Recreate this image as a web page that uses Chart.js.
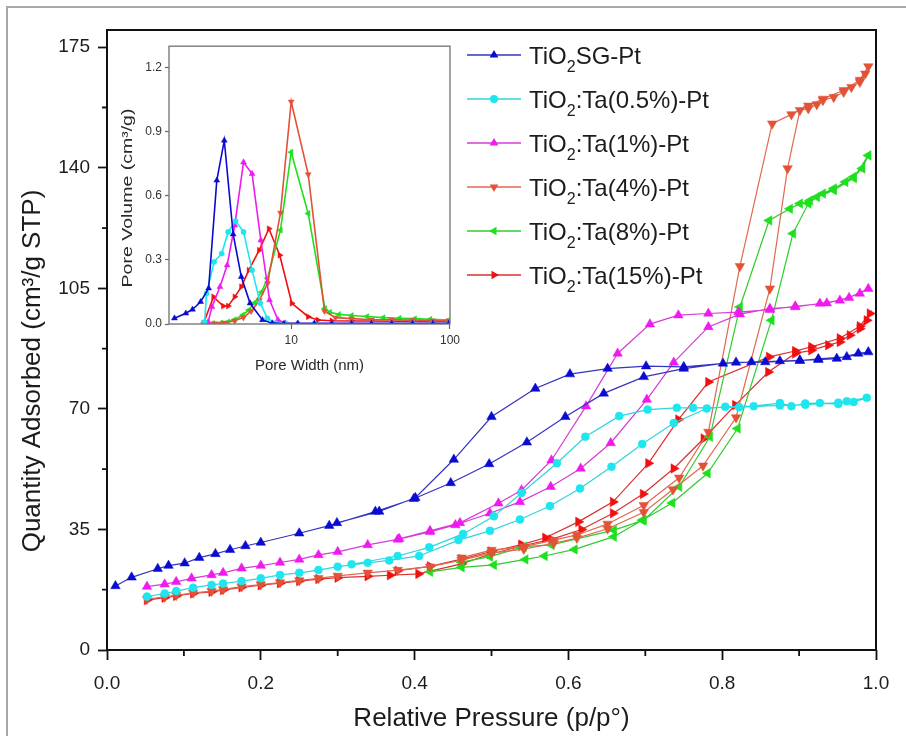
<!DOCTYPE html>
<html><head><meta charset="utf-8">
<script src="https://cdn.jsdelivr.net/npm/chart.js@4.4.0/dist/chart.umd.min.js"></script>
<style>
html,body{margin:0;padding:0;background:#fff;}
#wrap{position:relative;width:906px;height:736px;overflow:hidden;}
#main{position:absolute;left:0;top:0;}
#inset{position:absolute;left:112px;top:36px;}
</style></head><body>
<div id="wrap"><canvas id="main" width="906" height="736"></canvas><canvas id="inset" width="352" height="346"></canvas></div>
<script>
// ---------- Main isotherm data (relative pressure p/p0, quantity adsorbed cm3/g STP) ----------
const sgAdsP = [0.011,0.032,0.066,0.080,0.101,0.120,0.141,0.160,0.180,0.200,0.250,0.289,0.349,0.399,0.447,0.497,0.546,0.596,0.646,0.698,0.750,0.801,0.838,0.875,0.901,0.925,0.949,0.977,0.990];
const sgAdsQ = [18.6,21.1,23.6,24.5,25.2,26.8,27.9,29.1,30.2,31.2,33.9,36.1,40.2,43.9,48.5,54.0,60.3,67.7,74.5,79.3,81.7,83.2,83.6,83.9,84.1,84.3,84.6,86.1,86.5];
const sgDesP = [0.962,0.925,0.901,0.856,0.818,0.750,0.701,0.651,0.602,0.557,0.500,0.451,0.401,0.354,0.299];
const sgDesQ = [85.1,84.5,84.0,83.6,83.5,82.2,82.4,81.7,80.1,75.9,67.7,55.3,44.2,40.2,36.9];

const ta05AdsP = [0.052,0.075,0.090,0.112,0.136,0.151,0.175,0.200,0.225,0.250,0.275,0.300,0.339,0.367,0.406,0.457,0.498,0.537,0.576,0.615,0.656,0.696,0.737,0.780,0.804,0.841,0.875,0.890,0.908,0.927,0.951,0.962,0.971,0.988];
const ta05AdsQ = [15.5,16.4,17.1,18.1,18.9,19.3,20.0,20.8,21.8,22.4,23.2,24.2,25.3,26.0,27.3,31.9,34.6,37.9,41.8,46.9,53.2,59.8,65.9,70.1,70.6,70.8,71.7,70.8,71.6,71.7,71.4,72.2,72.0,73.2];
const ta05DesP = [0.951,0.908,0.875,0.822,0.762,0.741,0.703,0.666,0.622,0.585,0.539,0.503,0.463,0.419,0.378,0.318];
const ta05DesQ = [71.8,71.2,71.0,70.5,70.3,70.3,69.8,67.9,61.9,54.2,45.6,38.8,33.7,29.8,27.3,24.9];

const ta1AdsP = [0.052,0.075,0.090,0.110,0.136,0.151,0.175,0.200,0.225,0.250,0.275,0.300,0.339,0.378,0.420,0.453,0.498,0.537,0.577,0.616,0.655,0.702,0.737,0.782,0.823,0.862,0.895,0.927,0.953,0.979,0.990];
const ta1AdsQ = [18.4,19.1,19.8,20.8,21.8,22.4,23.7,24.5,25.4,26.3,27.6,28.5,30.5,32.1,34.3,36.3,39.7,43.0,47.4,52.7,60.1,72.7,83.5,93.8,97.5,99.1,99.6,100.6,101.5,103.5,104.9];
const ta1DesP = [0.965,0.936,0.895,0.862,0.821,0.782,0.743,0.706,0.664,0.623,0.578,0.539,0.509,0.459,0.420,0.380];
const ta1DesQ = [102.3,100.7,99.8,98.8,98.1,97.7,97.2,94.6,86.1,70.8,55.1,46.4,42.6,36.9,34.6,32.3];

const ta4AdsP = [0.052,0.075,0.090,0.112,0.136,0.151,0.175,0.200,0.225,0.250,0.275,0.300,0.339,0.378,0.420,0.461,0.500,0.542,0.581,0.611,0.651,0.698,0.736,0.775,0.818,0.862,0.885,0.901,0.912,0.923,0.931,0.945,0.958,0.968,0.979,0.986,0.990];
const ta4AdsQ = [14.8,15.4,15.9,16.6,17.1,17.6,18.4,19.0,19.6,20.2,20.8,21.5,22.4,23.2,24.2,26.1,28.1,29.3,31.0,32.5,35.2,40.0,46.6,53.5,67.5,104.9,139.8,156.7,157.2,158.4,159.6,160.5,162.0,163.4,164.9,167.3,169.4];
const ta4DesP = [0.979,0.958,0.931,0.912,0.890,0.865,0.823,0.782,0.744,0.698,0.651,0.611,0.581,0.542,0.500,0.461];
const ta4DesQ = [165.5,162.5,160.0,158.0,155.5,152.8,111.4,63.3,50.0,42.0,36.6,33.4,31.9,30.0,29.0,26.8];

const ta8AdsP = [0.420,0.461,0.503,0.544,0.569,0.608,0.659,0.696,0.735,0.781,0.820,0.864,0.892,0.912,0.923,0.931,0.945,0.960,0.971,0.982,0.990];
const ta8AdsQ = [22.7,24.0,24.7,26.3,27.3,29.2,32.9,37.7,42.7,51.3,64.3,95.7,120.9,129.6,131.5,132.5,134.0,135.9,137.4,139.8,143.6];
const ta8DesP = [0.971,0.945,0.914,0.901,0.888,0.861,0.823,0.784,0.744,0.698,0.659,0.578,0.542,0.498,0.461];
const ta8DesQ = [137.0,133.5,130.5,129.6,128.1,124.7,99.6,61.9,47.4,37.7,34.8,30.5,30.0,27.1,25.5];

const ta15AdsP = [0.052,0.075,0.090,0.112,0.136,0.151,0.175,0.200,0.225,0.250,0.275,0.300,0.339,0.368,0.405,0.461,0.498,0.539,0.578,0.617,0.658,0.697,0.737,0.776,0.817,0.860,0.895,0.916,0.938,0.953,0.966,0.979,0.988,0.992];
const ta15AdsQ = [14.5,15.2,15.7,16.4,16.9,17.4,18.2,18.8,19.4,20.0,20.6,21.0,21.4,21.7,22.1,25.0,27.8,30.2,32.1,35.0,39.7,45.3,52.7,61.4,71.1,80.7,86.1,87.0,88.5,89.4,91.4,93.3,95.7,97.7];
const ta15DesP = [0.979,0.953,0.916,0.895,0.861,0.782,0.743,0.704,0.658,0.613,0.570,0.539,0.500,0.461,0.420,0.378];
const ta15DesQ = [94.0,90.5,88.0,86.8,85.1,77.8,66.9,54.2,43.0,37.2,32.6,30.6,28.6,26.4,24.3,23.0];

// ---------- Inset data (pore width nm, pore volume cm3/g) ----------
const sgW   = [1.84,2.17,2.39,2.69,3.02,3.40,3.79,4.31,4.85,5.51,6.59,7.6,9.0,11,14,18,24,32,43,58,78,98];
const sgV   = [0.027,0.050,0.068,0.104,0.167,0.672,0.859,0.420,0.221,0.097,0.019,0.004,0.002,0.002,0.002,0.002,0.002,0.002,0.002,0.002,0.002,0.002];
const ta05W = [2.85,2.93,3.27,3.65,4.01,4.47,5.01,5.67,6.39,7.08,7.96,9.3,11,14,18,24,32,43,58,78,98];
const ta05V = [0.010,0.143,0.291,0.330,0.431,0.482,0.431,0.252,0.097,0.027,0.004,0.002,0.002,0.002,0.002,0.002,0.002,0.002,0.002,0.002,0.002];
const ta1W  = [3.0,3.17,3.56,3.95,4.41,5.01,5.67,6.44,7.31,8.26,9.2,11,14,18,24,32,43,58,78,98];
const ta1V  = [0.010,0.080,0.174,0.275,0.462,0.757,0.703,0.392,0.112,0.019,0.004,0.003,0.003,0.003,0.003,0.003,0.003,0.003,0.003,0.003];
const ta4W  = [2.81,3.3,3.8,4.4,5.0,5.6,6.3,7.1,8.56,10.0,12.8,16.2,19,24,32,43,58,78,98];
const ta4V  = [0.000,0.003,0.006,0.015,0.030,0.060,0.110,0.190,0.520,1.040,0.700,0.060,0.030,0.025,0.020,0.020,0.018,0.016,0.015];
const ta8W  = [3.2,3.6,4.0,4.4,4.96,5.4,5.9,6.5,7.08,8.56,10.0,12.8,16.3,17.5,20,24,30,38,48,60,75,98];
const ta8V  = [0.003,0.005,0.010,0.020,0.042,0.065,0.100,0.150,0.213,0.439,0.804,0.517,0.073,0.055,0.045,0.040,0.035,0.030,0.027,0.025,0.022,0.018];
const ta15W = [2.81,3.24,3.73,4.01,4.41,4.85,5.41,6.28,7.24,8.47,10.09,12.8,14.7,18,24,32,43,58,78,98];
const ta15V = [0.005,0.127,0.084,0.084,0.127,0.174,0.252,0.345,0.446,0.322,0.097,0.034,0.019,0.015,0.014,0.014,0.013,0.013,0.012,0.012];

// ---------- Axis ticks ----------
const xTicksMain = [0,0.2,0.4,0.6,0.8,1.0];
const yTicksMain = [0,35,70,105,140,175];
const insetYTicks = [0,0.3,0.6,0.9,1.2];
const insetXTicks = [10,100];

const FONT = '"Liberation Sans", Arial, Helvetica, sans-serif';
const TXT = '#1c1c1c';

const series = [
  {sub:'SG-Pt',          point:'#0a0ad0', line:'#3434c0', style:'triangle', rot:0,   ads:[sgAdsP,sgAdsQ],   des:[sgDesP,sgDesQ],   inset:[sgW,sgV]},
  {sub:':Ta(0.5%)-Pt',   point:'#1ee6ee', line:'#30d4dc', style:'circle',   rot:0,   ads:[ta05AdsP,ta05AdsQ], des:[ta05DesP,ta05DesQ], inset:[ta05W,ta05V]},
  {sub:':Ta(1%)-Pt',     point:'#ee1aee', line:'#d63cd6', style:'triangle', rot:0,   ads:[ta1AdsP,ta1AdsQ], des:[ta1DesP,ta1DesQ], inset:[ta1W,ta1V]},
  {sub:':Ta(4%)-Pt',     point:'#e25236', line:'#e06a50', style:'triangle', rot:180, ads:[ta4AdsP,ta4AdsQ], des:[ta4DesP,ta4DesQ], inset:[ta4W,ta4V]},
  {sub:':Ta(8%)-Pt',     point:'#1ee01e', line:'#30cc30', style:'triangle', rot:270, ads:[ta8AdsP,ta8AdsQ], des:[ta8DesP,ta8DesQ], inset:[ta8W,ta8V]},
  {sub:':Ta(15%)-Pt',    point:'#f01010', line:'#dc3030', style:'triangle', rot:90,  ads:[ta15AdsP,ta15AdsQ], des:[ta15DesP,ta15DesQ], inset:[ta15W,ta15V]}
];

function toPts(xs, ys){ return xs.map((x,i)=>({x:x, y:ys[i]})); }

function drawMarker(ctx, style, rot, x, y, r, color){
  ctx.save();
  ctx.fillStyle = color;
  ctx.translate(x,y);
  ctx.rotate(rot*Math.PI/180);
  ctx.beginPath();
  if (style === 'circle') { ctx.arc(0,0,r,0,Math.PI*2); }
  else {
    for (let k=0;k<3;k++){ const a = k*2*Math.PI/3; ctx.lineTo(Math.sin(a)*r, -Math.cos(a)*r); }
    ctx.closePath();
  }
  ctx.fill();
  ctx.restore();
}

// ---------- Main chart ----------
const mainDatasets = series.map(s => ({
  label: 'TiO2' + s.sub,
  data: toPts(s.ads[0].concat(s.des[0]), s.ads[1].concat(s.des[1])),
  showLine: true,
  borderColor: s.line,
  borderWidth: 1.2,
  pointStyle: s.style,
  rotation: s.rot,
  pointRadius: s.style === 'circle' ? 4 : 5.5,
  pointBackgroundColor: s.point,
  pointBorderColor: s.point,
  pointBorderWidth: 0.5,
  tension: 0,
  fill: false
}));

const mainDecor = {
  id: 'mainDecor',
  beforeDraw(chart){
    const ctx = chart.ctx;
    ctx.save();
    ctx.fillStyle = '#fff';
    ctx.fillRect(0,0,chart.width,chart.height);
    ctx.strokeStyle = '#a9a9a9';
    ctx.lineWidth = 2;
    ctx.beginPath();
    ctx.moveTo(7, chart.height+5); ctx.lineTo(7,7); ctx.lineTo(chart.width+5,7);
    ctx.stroke();
    ctx.restore();
  },
  afterDraw(chart){
    const ctx = chart.ctx, a = chart.chartArea;
    const xs = chart.scales.x, ys = chart.scales.y;
    ctx.save();
    // frame
    ctx.strokeStyle = '#111'; ctx.lineWidth = 2;
    ctx.strokeRect(a.left, a.top, a.right-a.left, a.bottom-a.top);
    // minor ticks
    ctx.lineWidth = 1.8;
    ctx.beginPath();
    for (let i=0;i<xTicksMain.length-1;i++){
      const px = xs.getPixelForValue((xTicksMain[i]+xTicksMain[i+1])/2);
      ctx.moveTo(px, a.bottom); ctx.lineTo(px, a.bottom+6);
    }
    for (let i=0;i<yTicksMain.length-1;i++){
      const py = ys.getPixelForValue((yTicksMain[i]+yTicksMain[i+1])/2);
      ctx.moveTo(a.left, py); ctx.lineTo(a.left-5, py);
    }
    ctx.stroke();
    // y title
    ctx.fillStyle = TXT;
    ctx.font = '26px ' + FONT;
    ctx.textAlign = 'center'; ctx.textBaseline = 'middle';
    ctx.translate(33, 371); ctx.rotate(-Math.PI/2);
    ctx.fillText('Quantity Adsorbed (cm\u00B3/g STP)', 0, 0);
    ctx.restore();
    // legend
    ctx.save();
    series.forEach((s,i)=>{
      const y = 55 + i*44;
      ctx.strokeStyle = s.line; ctx.lineWidth = 1.4;
      ctx.beginPath(); ctx.moveTo(467,y); ctx.lineTo(521,y); ctx.stroke();
      drawMarker(ctx, s.style, s.rot, 494, y, s.style==='circle'?4:5, s.point);
      ctx.fillStyle = TXT; ctx.textAlign = 'left'; ctx.textBaseline = 'alphabetic';
      let x = 529; const base = y + 9;
      ctx.font = '24px ' + FONT;
      ctx.fillText('TiO', x, base); x += ctx.measureText('TiO').width;
      ctx.font = '16px ' + FONT;
      ctx.fillText('2', x, base + 8); x += ctx.measureText('2').width;
      ctx.font = '24px ' + FONT;
      ctx.fillText(s.sub, x, base);
    });
    ctx.restore();
  }
};

new Chart(document.getElementById('main'), {
  type: 'scatter',
  data: { datasets: mainDatasets },
  options: {
    responsive: false, animation: false, devicePixelRatio: 1,
    layout: { padding: { left: 0, top: 30, right: 30, bottom: 0 } },
    plugins: { legend: { display: false }, tooltip: { enabled: false } },
    scales: {
      x: {
        type: 'linear', min: 0, max: 1,
        afterBuildTicks(s){ s.ticks = xTicksMain.map(v=>({value:v})); },
        afterFit(s){ s.height = 86; },
        ticks: { callback: v => Number(v).toFixed(1), font: { size: 19, family: FONT }, color: TXT, padding: 12, maxRotation: 0, autoSkip: false },
        grid: { drawOnChartArea: false, drawTicks: true, tickLength: 10, tickColor: '#111', tickWidth: 1.8 },
        border: { display: false },
        title: { display: true, text: 'Relative Pressure (p/p\u00B0)', font: { size: 26, family: FONT }, color: TXT, padding: { top: 0, bottom: 2 } }
      },
      y: {
        type: 'linear', min: 0, max: 180,
        afterBuildTicks(s){ s.ticks = yTicksMain.map(v=>({value:v})); },
        afterFit(s){ s.width = 107; },
        ticks: { callback: v => String(v), font: { size: 19, family: FONT }, color: TXT, padding: 8, autoSkip: false },
        grid: { drawOnChartArea: false, drawTicks: true, tickLength: 9, tickColor: '#111', tickWidth: 1.8 },
        border: { display: false },
        title: { display: false }
      }
    }
  },
  plugins: [mainDecor]
});

// ---------- Inset chart ----------
const insetDatasets = series.map(s => ({
  label: 'TiO2' + s.sub,
  data: toPts(s.inset[0], s.inset[1]),
  showLine: true,
  borderColor: s.point,
  borderWidth: 1.6,
  pointStyle: s.style,
  rotation: s.rot,
  pointRadius: s.style === 'circle' ? 2.6 : 3.4,
  pointBackgroundColor: s.point,
  pointBorderColor: s.point,
  pointBorderWidth: 0.5,
  tension: 0,
  fill: false
}));

const insetDecor = {
  id: 'insetDecor',
  afterDraw(chart){
    const ctx = chart.ctx, a = chart.chartArea;
    ctx.save();
    ctx.strokeStyle = '#7a7a7a'; ctx.lineWidth = 1.4;
    ctx.strokeRect(a.left, a.top, a.right-a.left, a.bottom-a.top);
    ctx.fillStyle = '#2a2a2a';
    ctx.font = '15px ' + FONT;
    ctx.textAlign = 'center'; ctx.textBaseline = 'middle';
    ctx.translate(16, 162); ctx.rotate(-Math.PI/2); ctx.scale(1.3, 1);
    ctx.fillText('Pore Volume (cm\u00B3/g)', 0, 0);
    ctx.restore();
  }
};

new Chart(document.getElementById('inset'), {
  type: 'scatter',
  data: { datasets: insetDatasets },
  options: {
    responsive: false, animation: false, devicePixelRatio: 1,
    layout: { padding: { left: 0, top: 9, right: 8, bottom: 0 } },
    plugins: { legend: { display: false }, tooltip: { enabled: false } },
    scales: {
      x: {
        type: 'logarithmic', min: 1.7, max: 100,
        afterBuildTicks(s){ s.ticks = insetXTicks.map(v=>({value:v})); },
        afterFit(s){ s.height = 58; },
        ticks: { callback: v => String(v), font: { size: 12, family: FONT }, color: '#333', padding: 4, maxRotation: 0, autoSkip: false },
        grid: { drawOnChartArea: false, drawTicks: true, tickLength: 5, tickColor: '#666', tickWidth: 1.2 },
        border: { display: false },
        title: { display: true, text: 'Pore Width (nm)', font: { size: 15, family: FONT }, color: '#2a2a2a', padding: { top: 0, bottom: 7 } }
      },
      y: {
        type: 'linear', min: 0, max: 1.3,
        afterBuildTicks(s){ s.ticks = insetYTicks.map(v=>({value:v})); },
        afterFit(s){ s.width = 57; },
        ticks: { callback: v => Number(v).toFixed(1), font: { size: 12, family: FONT }, color: '#333', padding: 3, autoSkip: false },
        grid: { drawOnChartArea: false, drawTicks: true, tickLength: 4, tickColor: '#666', tickWidth: 1.2 },
        border: { display: false },
        title: { display: false }
      }
    }
  },
  plugins: [insetDecor]
});
</script>
</body></html>
